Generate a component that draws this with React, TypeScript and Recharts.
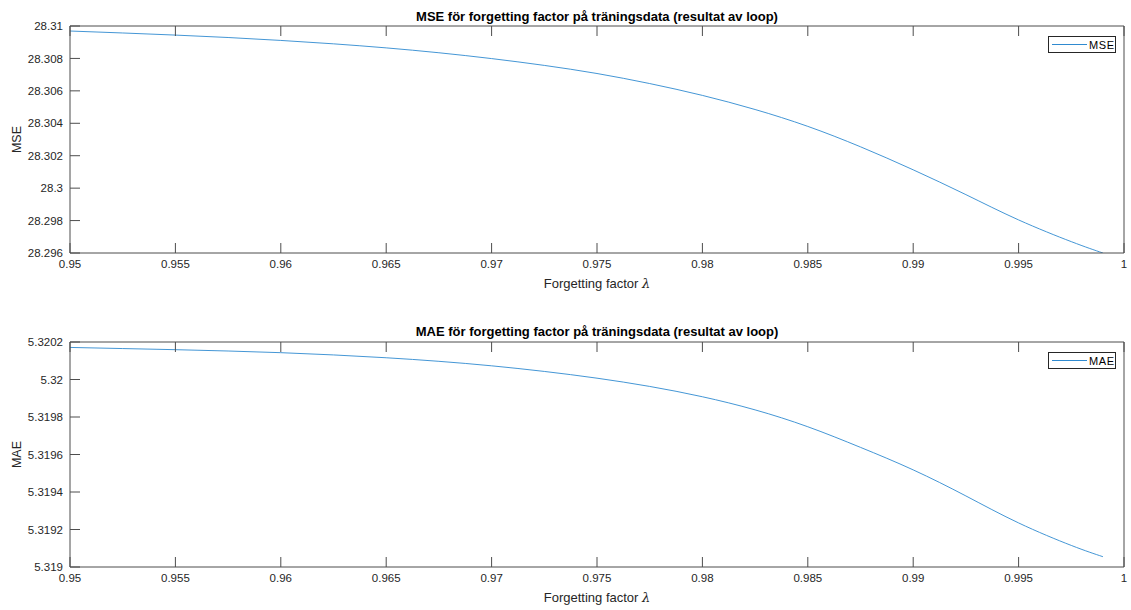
import { FC } from 'react'
import { Label, Legend, Line, LineChart, XAxis, YAxis } from 'recharts'

const lambdaValues = [0.95, 0.9525, 0.955, 0.9575, 0.96, 0.9625, 0.965, 0.9675, 0.97, 0.9725, 0.975, 0.9775, 0.98, 0.9825, 0.985, 0.9875, 0.99, 0.9925, 0.995, 0.9975, 0.999]
const mseValues = [28.30969, 28.30957, 28.30944, 28.30929, 28.30911, 28.3089, 28.30865, 28.30835, 28.30799, 28.30757, 28.30707, 28.30645, 28.30572, 28.30485, 28.30381, 28.30255, 28.30113, 28.2996, 28.29804, 28.2967, 28.296]
const maeValues = [5.320171, 5.320165, 5.320159, 5.320152, 5.320143, 5.320131, 5.320116, 5.320097, 5.320073, 5.320043, 5.320007, 5.319963, 5.319908, 5.319838, 5.319748, 5.319638, 5.319518, 5.319379, 5.319235, 5.319115, 5.319055]

const xTicks = [0.95, 0.955, 0.96, 0.965, 0.97, 0.975, 0.98, 0.985, 0.99, 0.995, 1]
const mseTicks = [28.296, 28.298, 28.3, 28.302, 28.304, 28.306, 28.308, 28.31]
const maeTicks = [5.319, 5.3192, 5.3194, 5.3196, 5.3198, 5.32, 5.3202]

const FONT = '"Liberation Sans", Arial, Helvetica, sans-serif'
const AXIS = '#4d4d4d'
const TEXT = '#262626'
const LINE = '#2f8ad0'

const tickStyle = { fill: TEXT, fontSize: 11.5, fontFamily: FONT }
const noLabel = () => ''

type PanelProps = {
  title: string;
  name: string;
  values: number[];
  yTicks: number[];
  digits: number;
  top: number;
  xHeight: number;
  labelOffset: number;
  titleOffset: number;
  legendTop: number;
}

const LegendBox = ({ payload }: any) => (
  <div style={{
    border: `1px solid ${TEXT}`, background: '#fff', display: 'flex', alignItems: 'center',
    width: 66, height: 15, boxSizing: 'content-box', fontFamily: FONT, fontSize: 11, color: '#000',
  }}>
    <svg width={40} height={3} style={{ display: 'block' }}>
      <line x1={3} y1={1.5} x2={38} y2={1.5} stroke={LINE} strokeWidth={1} />
    </svg>
    <span style={{ letterSpacing: 0.6 }}>{payload?.[0]?.value}</span>
  </div>
)

const Panel: FC<PanelProps> = ({ title, name, values, yTicks, digits, top, xHeight, labelOffset, titleOffset, legendTop }) => {
  const data = lambdaValues.map((lambda, i) => ({ lambda, value: values[i] }))
  const domain: [number, number] = [yTicks[0], yTicks[yTicks.length - 1]]
  const fmt = (v: number) => String(+v.toFixed(digits))

  return (
    <LineChart width={1131} height={305} data={data} margin={{ top: top - 1, right: 6, bottom: 0, left: 0 }}>
      <XAxis dataKey="lambda" type="number" domain={[0.95, 1]} ticks={xTicks} allowDataOverflow
        tickFormatter={(v: number) => String(+v.toFixed(3))} height={xHeight}
        stroke={AXIS} tickSize={-10} tickMargin={17} tick={tickStyle} interval={0}>
        <Label position="insideBottom"
          content={({ viewBox }: any) => (
            <text x={viewBox.x + viewBox.width / 2} y={viewBox.y + viewBox.height - labelOffset}
              textAnchor="middle" fill={TEXT} fontSize={13} fontFamily={FONT}>
              Forgetting factor <tspan fontFamily="DejaVu Serif, serif" fontStyle="italic">λ</tspan>
            </text>
          )} />
      </XAxis>
      <XAxis xAxisId="top" orientation="top" dataKey="lambda" type="number" domain={[0.95, 1]} ticks={xTicks}
        height={1} stroke={AXIS} tickSize={-10} tickFormatter={noLabel} tick={tickStyle} interval={0}>
        <Label position="top" offset={titleOffset} value={title} fill="#000" fontSize={13} fontWeight="bold"
          fontFamily={FONT} />
      </XAxis>
      <YAxis type="number" domain={domain} ticks={yTicks} allowDataOverflow width={70} interval={0}
        tickFormatter={fmt} stroke={AXIS} tickSize={-10} tickMargin={17} tick={tickStyle}>
        <Label value={name} angle={-90} position="insideLeft" offset={17} fill={TEXT} fontSize={12.5}
          fontFamily={FONT} style={{ textAnchor: 'middle' }} />
      </YAxis>
      <YAxis yAxisId="right" orientation="right" type="number" domain={domain} ticks={yTicks} width={1}
        stroke={AXIS} tickSize={-10} tickFormatter={noLabel} tick={tickStyle} interval={0} />
      <Legend layout="vertical" align="center" verticalAlign="middle" content={LegendBox}
        wrapperStyle={{ top: legendTop, right: 15, width: 'auto' }} />
      <Line dataKey="value" name={name} type="natural" stroke={LINE} strokeWidth={0.9} dot={false}
        isAnimationActive={false} />
    </LineChart>
  )
}

const App: FC = () => (
  <div style={{ position: 'absolute', left: 0, top: 0, width: 1131, height: 610, background: '#fff' }}>
    <Panel title="MSE för forgetting factor på träningsdata (resultat av loop)" name="MSE" values={mseValues}
      yTicks={mseTicks} digits={3} top={26} xHeight={52} labelOffset={17} titleOffset={4.5} legendTop={36} />
    <Panel title="MAE för forgetting factor på träningsdata (resultat av loop)" name="MAE" values={maeValues}
      yTicks={maeTicks} digits={4} top={37} xHeight={43} labelOffset={8} titleOffset={5.5} legendTop={47} />
  </div>
)

export default App
